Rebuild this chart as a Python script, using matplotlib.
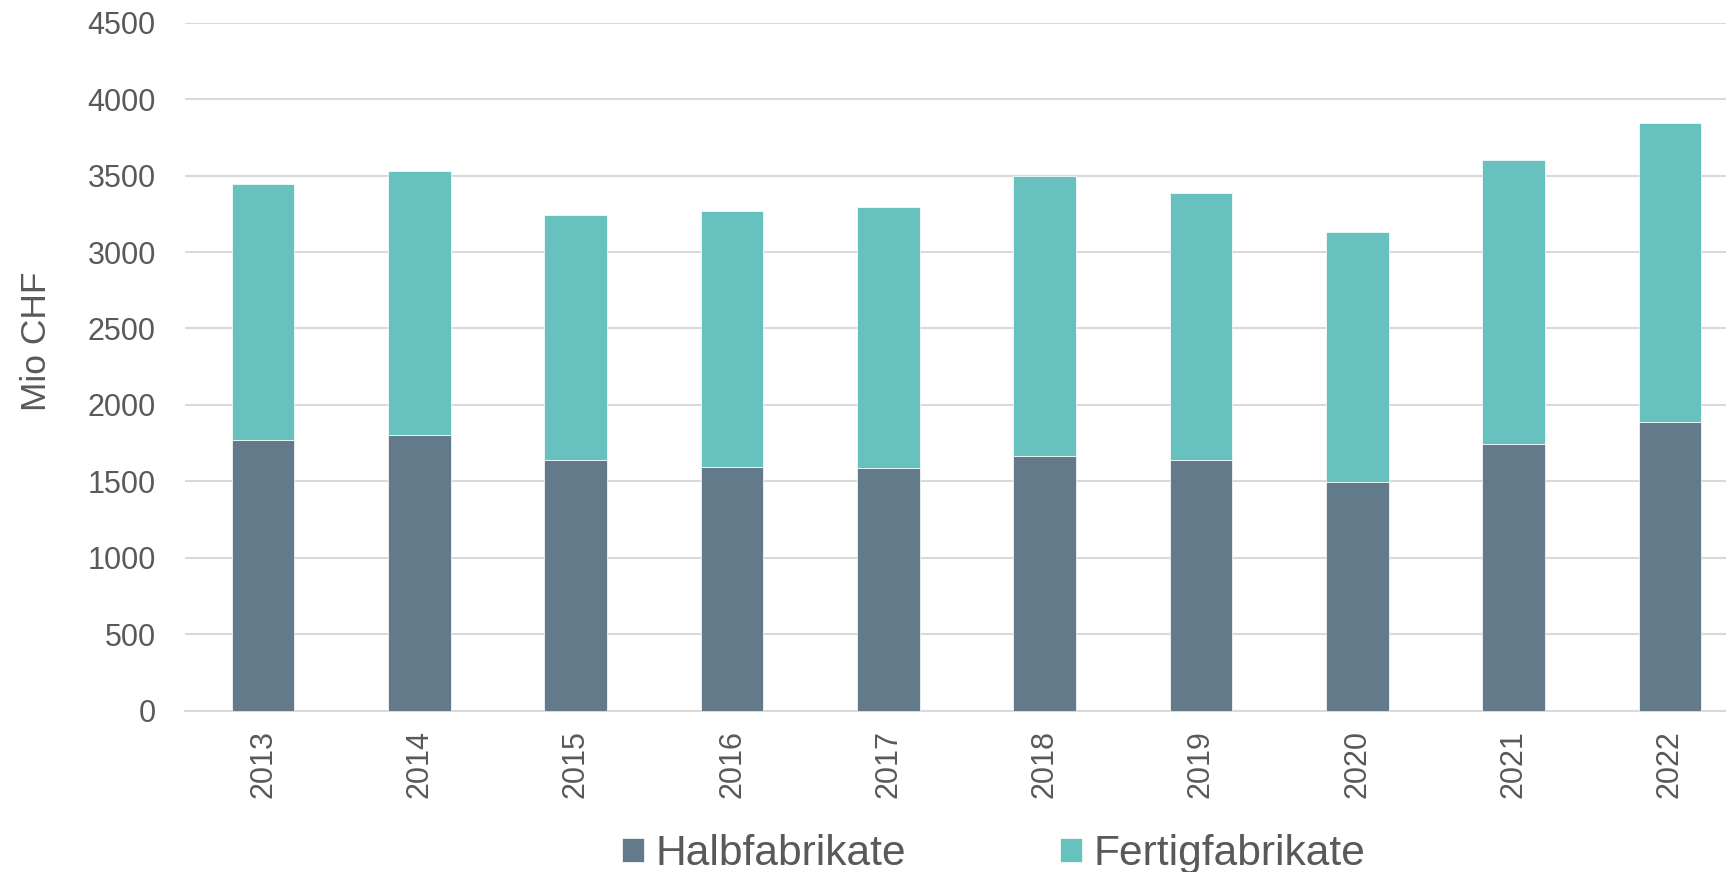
import matplotlib
matplotlib.use('Agg')
import matplotlib.pyplot as plt
import numpy as np

# data (Mio CHF)
years = ['2013', '2014', '2015', '2016', '2017', '2018', '2019', '2020', '2021', '2022']
halbfabrikate = [1772, 1805, 1639, 1596, 1589, 1666, 1641, 1497, 1746, 1888]
total = [3446, 3529, 3245, 3267, 3295, 3500, 3387, 3134, 3601, 3843]
fertigfabrikate = [t - h for t, h in zip(total, halbfabrikate)]
yticks = [0, 500, 1000, 1500, 2000, 2500, 3000, 3500, 4000, 4500]

col_halb = '#627A89'
col_fert = '#67C1BE'
txt_col = '#595959'
grid_col = '#D9D9D9'

plt.rcParams['font.family'] = ['Liberation Sans', 'DejaVu Sans']

W, H = 1726, 872
fig = plt.figure(figsize=(W / 100, H / 100), dpi=100)
ax = fig.add_axes([185 / W, 1 - 710.5 / H, 1563 / W, (710.5 - 22.9) / H])

x = np.arange(len(years))
b1 = ax.bar(x, halbfabrikate, width=0.4, color=col_halb, edgecolor='white', linewidth=0.5,
            label='Halbfabrikate', zorder=3)
b2 = ax.bar(x, fertigfabrikate, width=0.4, bottom=halbfabrikate, color=col_fert,
            edgecolor='white', linewidth=0.5, label='Fertigfabrikate', zorder=3)

ax.set_xlim(-0.5, len(years) - 0.5)
ax.set_ylim(0, 4500)
ax.set_yticks(yticks)
ax.set_yticklabels([str(v) for v in yticks])
ax.set_xticks(x)
ax.set_xticklabels(years, rotation=90)

ax.yaxis.grid(True, color=grid_col, linewidth=1.5, zorder=0)
ax.set_axisbelow(True)
for s in ['top', 'right', 'left']:
    ax.spines[s].set_visible(False)
ax.spines['bottom'].set_color(grid_col)
ax.spines['bottom'].set_linewidth(1.5)

ax.tick_params(axis='y', length=0, labelsize=22, labelcolor=txt_col, pad=21)
ax.tick_params(axis='x', length=0, labelsize=22, labelcolor=txt_col, pad=14)

fig.text(36 / W, 1 - 341.5 / H, 'Mio CHF', rotation=90, fontsize=25.5,
         color=txt_col, ha='center', va='center')

leg = fig.legend(handles=[b1, b2], loc='center', bbox_to_anchor=(994 / W, 1 - 854 / H),
                 ncol=2, frameon=False, fontsize=30.6, handlelength=0.52, handleheight=0.52,
                 handletextpad=0.27, columnspacing=3.62, borderpad=0)
for t in leg.get_texts():
    t.set_color(txt_col)

plt.savefig('out.png', dpi=100)
